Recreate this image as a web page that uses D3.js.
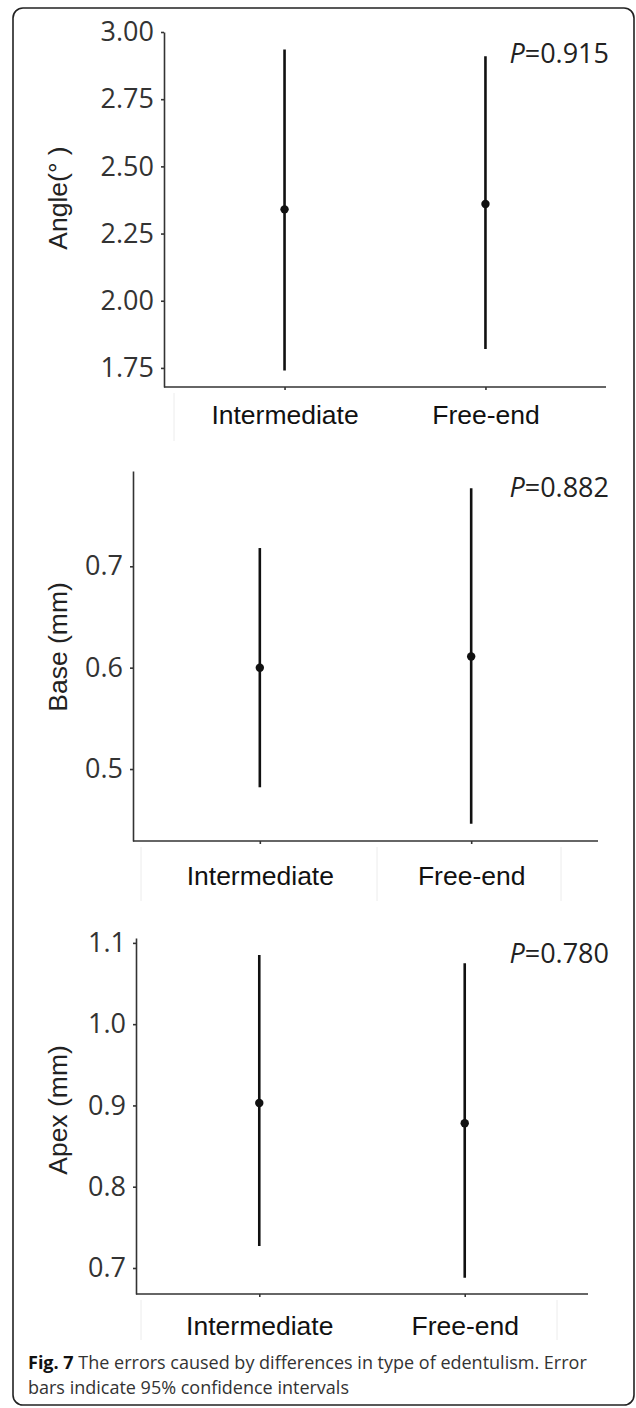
<!DOCTYPE html>
<html>
<head>
<meta charset="utf-8">
<script src="https://cdn.jsdelivr.net/npm/d3@7"></script>
<style>
body { margin: 0; background: #fff; }
svg { display: block; }
.yaxis text { font-family: "Open Sans", sans-serif; font-size: 27px; fill: #333; }
.xaxis text { font-family: "Liberation Sans", Arial, sans-serif; font-size: 26.5px; fill: #111; }
.yaxis path, .yaxis line, .xaxis path, .xaxis line { stroke: #333; stroke-width: 1.6; }
</style>
</head>
<body>
<svg id="fig" width="636" height="1408"></svg>
<script>
"use strict";

var groups = ["Intermediate", "Free-end"];

var angleMean = [2.34, 2.36];
var angleLow = [1.74, 1.82];
var angleHigh = [2.935, 2.91];
var angleTicks = [1.75, 2.00, 2.25, 2.50, 2.75, 3.00];

var baseMean = [0.600, 0.611];
var baseLow = [0.482, 0.446];
var baseHigh = [0.718, 0.777];
var baseTicks = [0.5, 0.6, 0.7];

var apexMean = [0.903, 0.878];
var apexLow = [0.727, 0.688];
var apexHigh = [1.085, 1.075];
var apexTicks = [0.7, 0.8, 0.9, 1.0, 1.1];

var pValues = ["0.915", "0.882", "0.780"];

var svg = d3.select("#fig");

// outer frame
svg.append("rect").attr("x", 13).attr("y", 8).attr("width", 621).attr("height", 1397)
    .attr("rx", 10).attr("fill", "none").attr("stroke", "#222").attr("stroke-width", 1.6);

function drawPanel(opt) {
    var g = svg.append("g");
    var x = d3.scalePoint().domain(groups).range([opt.left, opt.right]).padding(0.6);
    var y = d3.scaleLinear().domain(opt.domain).range([opt.bottom, opt.top]);

    var rows = groups.map(function (d, i) {
        return { group: d, mean: opt.mean[i], low: opt.low[i], high: opt.high[i] };
    });

    // light separators under the x axis
    opt.seps.forEach(function (sx) {
        g.append("line").attr("x1", sx).attr("x2", sx)
            .attr("y1", opt.bottom + 6).attr("y2", opt.bottom + opt.sepLen)
            .attr("stroke", "#ececec").attr("stroke-width", 1);
    });

    g.append("g").attr("class", "yaxis").attr("transform", "translate(" + opt.left + ",0)")
        .call(d3.axisLeft(y).tickValues(opt.ticks).tickFormat(d3.format(opt.fmt))
            .tickSize(3).tickSizeOuter(0).tickPadding(7));

    g.append("g").attr("class", "xaxis").attr("transform", "translate(0," + opt.bottom + ")")
        .call(d3.axisBottom(x).tickSize(3).tickSizeOuter(0).tickPadding(opt.xpad));
    g.select(".xaxis path").attr("d", "M" + opt.left + ",0H" + opt.right);

    g.selectAll(".ci").data(rows).enter().append("line").attr("class", "ci")
        .attr("x1", function (d) { return x(d.group); })
        .attr("x2", function (d) { return x(d.group); })
        .attr("y1", function (d) { return y(d.low); })
        .attr("y2", function (d) { return y(d.high); })
        .attr("stroke", "#111").attr("stroke-width", 2.6);

    g.selectAll(".pt").data(rows).enter().append("circle").attr("class", "pt")
        .attr("cx", function (d) { return x(d.group); })
        .attr("cy", function (d) { return y(d.mean); })
        .attr("r", 4.2).attr("fill", "#111");

    g.append("text").attr("transform", "translate(" + opt.titleX + "," + opt.titleY + ") rotate(-90)")
        .attr("text-anchor", "middle").attr("dy", "0.35em")
        .style("font-family", "Liberation Sans, Arial, sans-serif").style("font-size", "26.5px")
        .attr("fill", "#222").text(opt.title);

    var pt = g.append("text").attr("x", 609).attr("y", opt.pY).attr("text-anchor", "end")
        .style("font-family", "Open Sans, sans-serif").style("font-size", "27px").attr("fill", "#222");
    pt.append("tspan").style("font-style", "italic").text("P");
    pt.append("tspan").text("=" + opt.p);
}

drawPanel({
    left: 164, right: 606, top: 32, bottom: 387, domain: [1.679, 3.0],
    mean: angleMean, low: angleLow, high: angleHigh, ticks: angleTicks, fmt: ".2f",
    xpad: 15, seps: [174], sepLen: 54, title: "Angle(\u00b0  )", titleX: 58, titleY: 198,
    p: pValues[0], pY: 63
});

drawPanel({
    left: 133, right: 598, top: 471, bottom: 841, domain: [0.429, 0.794],
    mean: baseMean, low: baseLow, high: baseHigh, ticks: baseTicks, fmt: ".1f",
    xpad: 22, seps: [141, 377, 561], sepLen: 60, title: "Base (mm)", titleX: 58, titleY: 647,
    p: pValues[1], pY: 497
});

drawPanel({
    left: 136, right: 588, top: 938, bottom: 1294, domain: [0.668, 1.106],
    mean: apexMean, low: apexLow, high: apexHigh, ticks: apexTicks, fmt: ".1f",
    xpad: 19, seps: [141, 557], sepLen: 46, title: "Apex (mm)", titleX: 58, titleY: 1110,
    p: pValues[2], pY: 963
});

// caption
var cap = svg.append("text").attr("x", 28).attr("y", 1369)
    .style("font-family", "Open Sans, sans-serif").style("font-size", "18px").attr("fill", "#333");
cap.append("tspan").style("font-weight", "bold").attr("fill", "#111").text("Fig. 7");
cap.append("tspan").text(" The errors caused by differences in type of edentulism. Error");
svg.append("text").attr("x", 28).attr("y", 1394)
    .style("font-family", "Open Sans, sans-serif").style("font-size", "18px").attr("fill", "#333")
    .text("bars indicate 95% confidence intervals");
</script>
</body>
</html>
